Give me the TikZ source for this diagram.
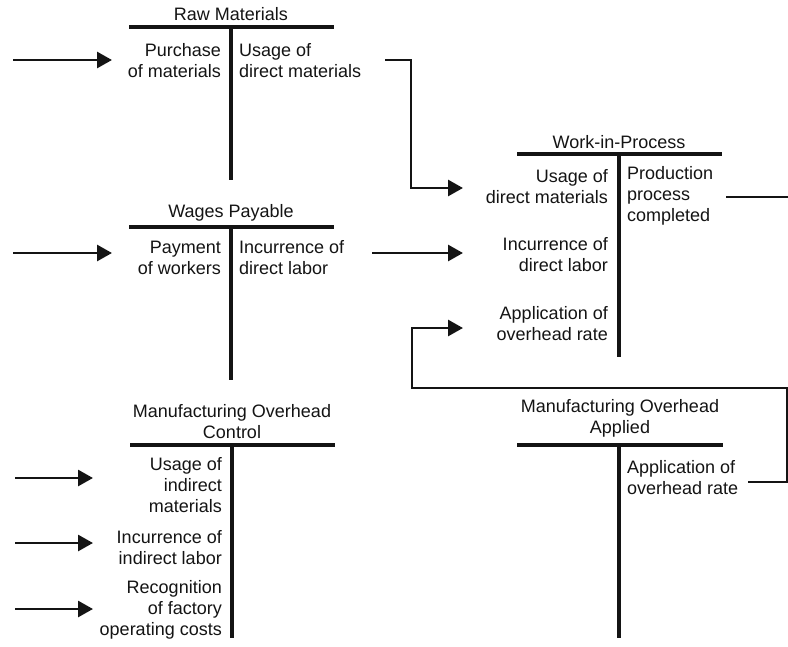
\documentclass[tikz,border=0pt]{standalone}
\usepackage{fontspec}
\setmainfont{Liberation Sans}
\usetikzlibrary{arrows.meta}
\definecolor{ink}{HTML}{141414}
\begin{document}
\begin{tikzpicture}[x=1pt,y=-1pt,
  lbl/.style={inner sep=0pt, font=\fontsize{18}{21}\selectfont, text=ink},
  ttl/.style={lbl, align=center},
  lft/.style={lbl, align=right, anchor=east},
  rgt/.style={lbl, align=left, anchor=west},
  tbar/.style={line width=4.4pt, draw=ink},
  tstem/.style={line width=3.4pt, draw=ink},
  link/.style={line width=2.8pt, draw=ink, line join=miter},
  flow/.style={link, -{Triangle[length=15pt,width=16pt]}}]

% page
\fill[white] (0,0) rectangle (788,646);
\useasboundingbox (0,0) rectangle (788,646);

% ---------- Raw Materials ----------
\coordinate (rmA) at (129,27);  \coordinate (rmB) at (334,27);
\coordinate (rmT) at (231,27);  \coordinate (rmE) at (231,180);
\draw[tbar] (rmA) -- (rmB);
\draw[tstem] (rmT) -- (rmE);
\node[ttl] (rmTitle) at (231,14) {Raw Materials};
\node[lft] (rmL) at (221,60.5) {Purchase\\of materials};
\node[rgt] (rmR) at (239,60.5) {Usage of\\direct materials};

% ---------- Wages Payable ----------
\coordinate (wpA) at (129,227); \coordinate (wpB) at (334,227);
\coordinate (wpT) at (231,227); \coordinate (wpE) at (231,380);
\draw[tbar] (wpA) -- (wpB);
\draw[tstem] (wpT) -- (wpE);
\node[ttl] (wpTitle) at (231,213) {Wages Payable};
\node[lft] (wpL) at (221,257.5) {Payment\\of workers};
\node[rgt] (wpR) at (239,257.5) {Incurrence of\\direct labor};

% ---------- Work-in-Process ----------
\coordinate (wipA) at (517,154); \coordinate (wipB) at (722,154);
\coordinate (wipT) at (619,154); \coordinate (wipE) at (619,357);
\draw[tbar] (wipA) -- (wipB);
\draw[tstem] (wipT) -- (wipE);
\node[ttl] (wipTitle) at (619,142) {Work-in-Process};
\node[lft] (wipL1) at (608,187) {Usage of\\direct materials};
\node[lft] (wipL2) at (608,255) {Incurrence of\\direct labor};
\node[lft] (wipL3) at (608,323.5) {Application of\\overhead rate};
\node[rgt] (wipR) at (627,196) {Production\\process\\completed};

% ---------- Manufacturing Overhead Control ----------
\coordinate (mcA) at (130,445); \coordinate (mcB) at (335,445);
\coordinate (mcT) at (232,445); \coordinate (mcE) at (232,638);
\draw[tbar] (mcA) -- (mcB);
\draw[tstem] (mcT) -- (mcE);
\node[ttl] (mcTitle) at (232,422) {Manufacturing Overhead\\Control};
\node[lft] (mcL1) at (222,485.5) {Usage of\\indirect\\materials};
\node[lft] (mcL2) at (222,547.5) {Incurrence of\\indirect labor};
\node[lft] (mcL3) at (222,610) {Recognition\\of factory\\operating costs};

% ---------- Manufacturing Overhead Applied ----------
\coordinate (maA) at (517,445); \coordinate (maB) at (723,445);
\coordinate (maT) at (619,445); \coordinate (maE) at (619,638);
\draw[tbar] (maA) -- (maB);
\draw[tstem] (maT) -- (maE);
\node[ttl] (maTitle) at (620,418) {Manufacturing Overhead\\Applied};
\node[rgt] (maR) at (627,478) {Application of\\overhead rate};

% ---------- connector end points ----------
\coordinate (in1s) at (13,60);   \coordinate (in1e) at (112,60);
\coordinate (in2s) at (13,253);  \coordinate (in2e) at (112,253);
\coordinate (in3s) at (15,478);  \coordinate (in3e) at (93,478);
\coordinate (in4s) at (15,543);  \coordinate (in4e) at (93,543);
\coordinate (in5s) at (15,609);  \coordinate (in5e) at (93,609);
\coordinate (dmS) at (385,60);   \coordinate (dmK) at (411,188);  \coordinate (dmE) at (463,188);
\coordinate (dlS) at (372,253);  \coordinate (dlE) at (463,253);
\coordinate (ohS) at (748,482);  \coordinate (ohR) at (787,388);
\coordinate (ohK) at (412,328);  \coordinate (ohE) at (463,328);
\coordinate (outS) at (726,197); \coordinate (outE) at (788,197);

% ---------- flows ----------
\draw[flow] (in1s) -- (in1e);
\draw[flow] (in2s) -- (in2e);
\draw[flow] (in3s) -- (in3e);
\draw[flow] (in4s) -- (in4e);
\draw[flow] (in5s) -- (in5e);
\draw[flow] (dmS) -| (dmK) -- (dmE);
\draw[flow] (dlS) -- (dlE);
\draw[flow] (ohS) -| (ohR) -| (ohK) -- (ohE);
\draw[link] (outS) -- (outE);
\end{tikzpicture}
\end{document}
